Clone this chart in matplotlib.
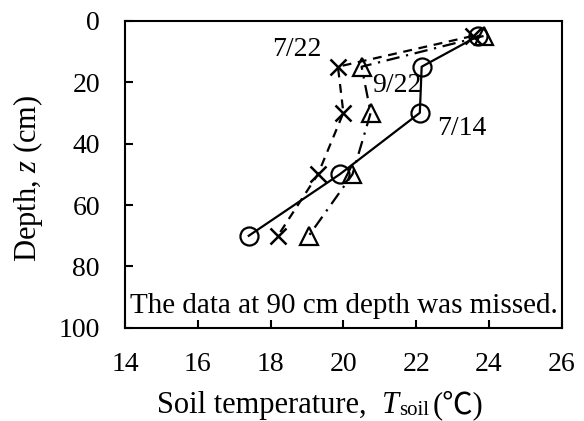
import matplotlib.pyplot as plt

plt.rcParams['font.family'] = ['Liberation Serif', 'DejaVu Serif']
plt.rcParams['mathtext.fontset'] = 'custom'
plt.rcParams['mathtext.rm'] = 'Liberation Serif'
plt.rcParams['mathtext.it'] = 'Liberation Serif:italic'

depth = [5, 15, 30, 50, 70]
temp_0714 = [23.7, 22.15, 22.1, 19.9, 17.4]
temp_0722 = [23.55, 19.85, 20.0, 19.3, 18.2]
temp_0922 = [23.85, 20.5, 20.75, 20.25, 19.05]

fig = plt.figure(figsize=(5.84, 4.21), dpi=100)
ax = fig.add_axes([0.214, 0.221, 0.748, 0.730])

ax.plot(temp_0714, depth, color="black", linestyle="-", linewidth=1.6,
        marker="o", markersize=13, markerfacecolor="none", markeredgewidth=1.6)
ax.plot(temp_0722, depth, color="black", linestyle=(0, (4, 3)), linewidth=1.6,
        marker="x", markersize=12, markeredgewidth=1.8)
ax.plot(temp_0922, depth, color="black", linestyle=(0, (6, 3, 1, 3)), linewidth=1.6,
        marker="^", markersize=13, markerfacecolor="none", markeredgewidth=1.6)

ax.text(19.41, 9.5, "7/22", fontsize=20, ha="right", va="center")
ax.text(20.78, 21, "9/22", fontsize=20, ha="left", va="center")
ax.text(22.57, 35, "7/14", fontsize=20, ha="left", va="center")
ax.text(20, 95.2, "The data at 90 cm depth was missed.", fontsize=21,
        ha="center", va="baseline")

ax.set_xlim(14, 26)
ax.set_ylim(100, 0)
ax.set_xticks(range(14, 27, 2))
ax.set_yticks(range(0, 101, 20))
ax.tick_params(direction="in", length=6, width=1.5, labelsize=20)
ax.tick_params(axis="x", pad=17)
ax.tick_params(axis="y", pad=18)
for s in ax.spines.values():
    s.set_linewidth(1.5)

# x label built from pieces so the ℃ sign can fall back to a CJK font
t1 = fig.text(157 / 584, 8 / 421, "Soil temperature,", fontsize=22, va="baseline")
t2 = ax.annotate("T", xy=(1, 0), xycoords=t1, xytext=(11, 0), textcoords="offset points",
                 fontsize=22, style="italic", va="bottom")
t3 = ax.annotate("soil", xy=(1, 0), xycoords=t2, xytext=(0, 0), textcoords="offset points",
                 fontsize=15, va="bottom")
ax.annotate("(℃)", xy=(1, 0), xycoords=(t3, t2), xytext=(3, 0), textcoords="offset points",
            fontsize=22, va="bottom", family=["Liberation Serif", "Noto Sans CJK JP"])

ax.set_ylabel("Depth, $z$ (cm)", fontsize=22, va="center")
ax.yaxis.set_label_coords(-0.222, 0.488)

fig.savefig("out.png", dpi=100)
